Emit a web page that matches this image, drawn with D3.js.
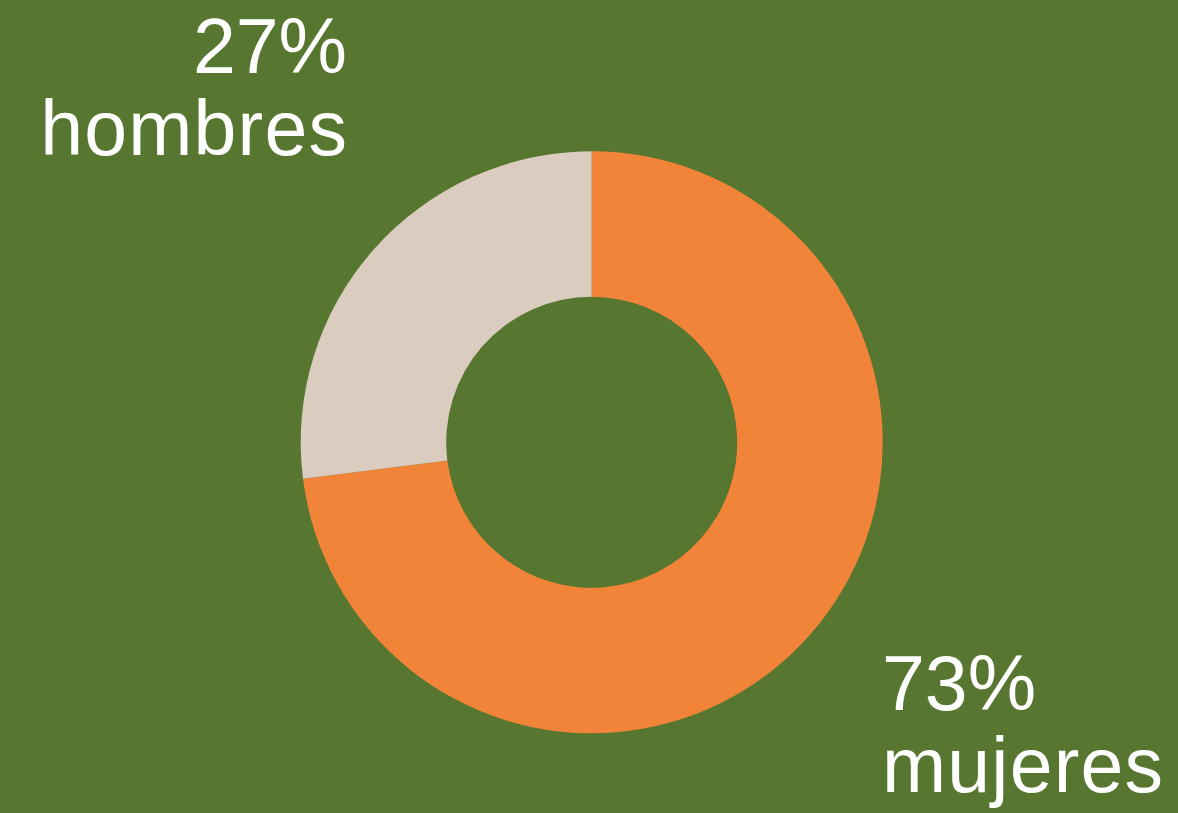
<!DOCTYPE html>
<html>
<head>
<meta charset="utf-8">
<script src="https://cdn.jsdelivr.net/npm/d3@7"></script>
<style>
  html, body { margin: 0; padding: 0; background: #57762F; }
  svg { display: block; }
</style>
</head>
<body>
<svg id="chart" width="1178" height="813"></svg>
<script>
// Share of women and men
const categories = ["mujeres", "hombres"];
const values = [73, 27];
const colors = ["#F2843A", "#DACDC0"];
const valueLabels = ["73%", "27%"];

const W = 1178, H = 813;
const cx = 591.7, cy = 442.3;
const outerR = 291, innerR = 145.5;

const svg = d3.select("#chart");
svg.append("rect").attr("width", W).attr("height", H).attr("fill", "#57762F");

const data = categories.map((c, i) => ({ category: c, value: values[i], color: colors[i], label: valueLabels[i] }));

const pie = d3.pie().value(d => d.value).sort(null);
const arc = d3.arc().innerRadius(innerR).outerRadius(outerR);

const g = svg.append("g").attr("transform", `translate(${cx},${cy})`);
g.selectAll("path")
  .data(pie(data))
  .join("path")
  .attr("d", arc)
  .attr("fill", d => d.data.color);

// Two-line labels: percentage over category name
const font = "'Liberation Sans', Arial, Helvetica, sans-serif";
const labelPos = {
  "hombres": { x: 347, y: 72.5, anchor: "end" },
  "mujeres": { x: 882, y: 710, anchor: "start" }
};
const lineGap = 82;

data.forEach(d => {
  const p = labelPos[d.category];
  const t = svg.append("text")
    .attr("text-anchor", p.anchor)
    .attr("font-family", font)
    .attr("font-size", 77)
    .attr("fill", "#FFFFFF");
  t.append("tspan").attr("x", p.x).attr("y", p.y).text(d.label);
  t.append("tspan")
    .attr("x", p.anchor === "end" ? p.x + 1.2 : p.x)
    .attr("y", p.y + lineGap)
    .attr("letter-spacing", 1.2)
    .text(d.category);
});
</script>
</body>
</html>
